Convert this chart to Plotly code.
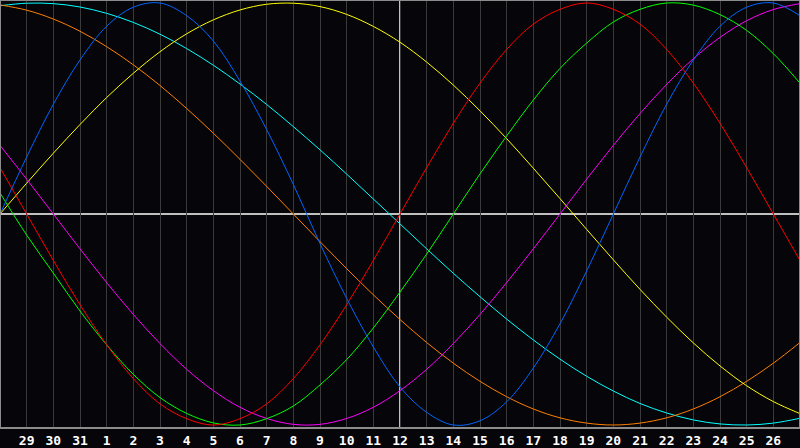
import plotly.graph_objects as go

# day positions across the chart (0 .. 30)
positions = list(range(31))
# tick labels for positions 1..29
tick_positions = list(range(1, 30))
tick_labels = ["29", "30", "31"] + [str(d) for d in range(1, 27)]
today_position = 15

# values, one per day (position 0..30)
blue_values = [0.00, 0.27, 0.52, 0.73, 0.89, 0.98, 1.00, 0.94, 0.82, 0.63, 0.40,
               0.14, -0.14, -0.40, -0.63, -0.82, -0.94, -1.00, -0.98, -0.89, -0.73,
               -0.52, -0.27, 0.00, 0.27, 0.52, 0.73, 0.89, 0.98, 1.00, 0.94]
red_values = [0.22, 0.00, -0.22, -0.43, -0.62, -0.78, -0.90, -0.97, -1.00, -0.97, -0.90,
              -0.78, -0.62, -0.43, -0.22, 0.00, 0.22, 0.43, 0.62, 0.78, 0.90,
              0.97, 1.00, 0.97, 0.90, 0.78, 0.62, 0.43, 0.22, 0.00, -0.22]
green_values = [0.10, -0.10, -0.28, -0.46, -0.62, -0.76, -0.87, -0.945, -0.99, -1.00, -0.97,
                -0.91, -0.81, -0.69, -0.54, -0.37, -0.19, 0.00, 0.19, 0.37, 0.54,
                0.69, 0.81, 0.91, 0.97, 1.00, 0.99, 0.945, 0.87, 0.76, 0.62]
yellow_values = [0.000, 0.146, 0.288, 0.424, 0.552, 0.667, 0.769, 0.854, 0.920, 0.967, 0.994,
                 0.999, 0.983, 0.946, 0.889, 0.814, 0.720, 0.611, 0.489, 0.357, 0.217,
                 0.073, -0.073, -0.217, -0.357, -0.489, -0.611, -0.720, -0.814, -0.889, -0.946]
cyan_values = [0.987, 0.999, 0.997, 0.981, 0.951, 0.908, 0.852, 0.784, 0.705, 0.616, 0.519,
               0.414, 0.304, 0.189, 0.071, -0.047, -0.165, -0.281, -0.392, -0.498, -0.597,
               -0.688, -0.769, -0.839, -0.898, -0.943, -0.976, -0.995, -1.000, -0.991, -0.968]
orange_values = [0.991, 0.966, 0.924, 0.866, 0.793, 0.707, 0.609, 0.500, 0.383, 0.259, 0.131,
                 0.000, -0.131, -0.259, -0.383, -0.500, -0.609, -0.707, -0.793, -0.866, -0.924,
                 -0.966, -0.991, -1.000, -0.991, -0.966, -0.924, -0.866, -0.793, -0.707, -0.609]
magenta_values = [0.325, 0.165, 0.000, -0.165, -0.325, -0.476, -0.614, -0.736, -0.837, -0.916, -0.969,
                  -0.997, -0.997, -0.969, -0.916, -0.837, -0.736, -0.614, -0.476, -0.325, -0.165,
                  0.000, 0.165, 0.325, 0.476, 0.614, 0.736, 0.837, 0.916, 0.969, 0.997]

series = [
    ("Spiritual", cyan_values, "#00ffff"),
    ("Awareness", orange_values, "#ff8000"),
    ("Aesthetic", yellow_values, "#ffff00"),
    ("Intuitive", magenta_values, "#ff00ff"),
    ("Intellectual", green_values, "#00ff00"),
    ("Emotional", red_values, "#ff0000"),
    ("Physical", blue_values, "#0066ff"),
]

BG = "#060509"
fig = go.Figure()
for name, vals, color in series:
    fig.add_trace(go.Scatter(x=positions, y=vals, mode="lines", name=name,
                             line=dict(color=color, width=1, shape="spline", smoothing=1.0),
                             hoverinfo="skip"))

fig.update_layout(
    width=800, height=448,
    margin=dict(l=0, r=0, t=0, b=20),
    paper_bgcolor=BG, plot_bgcolor=BG,
    showlegend=False,
    xaxis=dict(range=[0, 30], tickvals=tick_positions, ticktext=tick_labels,
               showgrid=True, gridcolor="#3a3a3a", gridwidth=1, zeroline=False,
               ticks="", showline=False, ticklabelstandoff=3,
               tickfont=dict(family="DejaVu Sans Mono", size=13, color="#ffffff", weight="bold"),
               fixedrange=True),
    yaxis=dict(range=[-1.0142, 1.0142], showgrid=False, zeroline=False,
               showticklabels=False, ticks="", showline=False, fixedrange=True),
    shapes=[
        dict(type="line", xref="x", yref="paper", x0=today_position, x1=today_position,
             y0=0, y1=1, line=dict(color="#ffffff", width=1.5), layer="below"),
        dict(type="line", xref="paper", yref="y", x0=0, x1=1, y0=0, y1=0,
             line=dict(color="#ffffff", width=1.5), layer="below"),
        dict(type="rect", xref="paper", yref="paper", x0=0, x1=1, y0=0, y1=1,
             line=dict(color="#8c8c8c", width=2), layer="above"),
    ],
)

fig.write_html("out.html", config={"displayModeBar": False},
               post_script="document.body.style.margin='0';document.body.style.background='" + BG + "';")
